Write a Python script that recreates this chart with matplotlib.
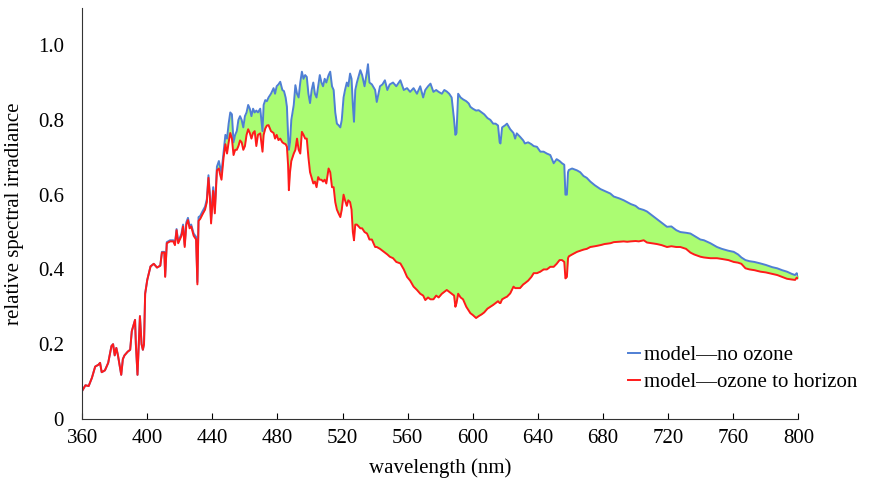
import numpy as np
import matplotlib
matplotlib.use('Agg')
import matplotlib.pyplot as plt

# wavelength grid (nm) shared by both model spectra
wl = [360, 362, 364, 366, 368, 370, 371, 372, 374, 376, 378, 379, 380, 381, 382, 384, 385, 386, 388,
      389.5, 390.5, 392.5, 393, 394, 395.5, 396.5, 397.3, 398, 398.7, 400, 402, 404, 406, 408, 409,
      410.5, 411, 412, 414, 416, 417, 418, 419, 420, 421, 422, 423, 424, 425, 426, 427, 428.5, 430,
      430.8, 431.5, 432.5, 434, 435.5, 436.6, 437.6, 438.5, 439.2, 440.5, 441.5, 442.8, 444, 444.7,
      445.6, 446.9, 448, 449, 450, 451, 452, 453, 454, 455, 456, 457, 458, 459, 460, 461, 462, 463,
      464, 465, 466, 467, 468, 469.4, 470.8, 471.5, 472.5, 473.5, 474.5, 476, 477.6, 478.5, 479.5,
      480.6, 481.7, 483, 484, 485, 485.8, 486.5, 487, 487.7, 488.5, 490, 491, 492, 493, 494, 495,
      496, 497, 498, 499, 500, 501, 502, 503, 504, 505, 506, 507, 508, 509, 510, 511.4, 512.4, 513.5,
      514.5, 515.5, 516.5, 517.5, 518.6, 519.5, 520.6, 521.5, 522.6, 523.5, 524.6, 525.5, 526.3, 527,
      527.8, 528.8, 530.9, 532, 533.5, 535, 535.6, 536.5, 538, 540, 541, 543, 544.5, 546, 547.5, 549,
      551, 553, 555.5, 557.6, 559.6, 561.5, 563.6, 565.7, 567.7, 569.5, 570.8, 572.5, 574, 575.8,
      577.5, 579, 581, 582.5, 584, 585.5, 587, 588.5, 589.3, 590, 591, 592.5, 594, 596, 597.5, 598.5,
      600, 602, 603.6, 605.5, 607, 609, 610.8, 612.5, 614, 615.5, 616.5, 617, 618, 620, 621, 623,
      625, 626, 627, 629, 631, 632, 634, 636, 637.4, 639.4, 641.5, 643.5, 645.5, 647.6, 649.7, 651.5,
      653.3, 654.8, 656.2, 656.9, 657.8, 658.5, 659, 661, 664, 666, 668, 670, 672.2, 675, 678.4, 681,
      684.5, 686.6, 690, 692.7, 694.8, 697, 700, 702, 705, 707, 710, 713, 716, 719.3, 722, 725, 727.5,
      731, 733.7, 736, 739.8, 742, 746, 750, 753, 757, 760.3, 763, 765, 767.5, 770, 773, 776.7, 780,
      784, 787, 790, 793, 796, 798, 799, 800]

# model with ozone to horizon
ozone = [0.075, 0.09, 0.088, 0.11, 0.14, 0.145, 0.15, 0.125, 0.13, 0.15, 0.195, 0.2, 0.17, 0.19, 0.17,
         0.118, 0.16, 0.17, 0.18, 0.185, 0.235, 0.265, 0.2, 0.118, 0.275, 0.2, 0.185, 0.2, 0.335, 0.372,
         0.408, 0.415, 0.405, 0.41, 0.445, 0.445, 0.38, 0.47, 0.475, 0.475, 0.465, 0.505, 0.47, 0.48,
         0.49, 0.515, 0.46, 0.52, 0.532, 0.51, 0.515, 0.49, 0.48, 0.36, 0.53, 0.535, 0.548, 0.56, 0.58,
         0.645, 0.59, 0.523, 0.61, 0.55, 0.665, 0.67, 0.655, 0.64, 0.70, 0.735, 0.71, 0.74, 0.765, 0.75,
         0.706, 0.72, 0.72, 0.73, 0.745, 0.74, 0.72, 0.73, 0.76, 0.775, 0.765, 0.75, 0.765, 0.77, 0.73,
         0.76, 0.764, 0.715, 0.76, 0.777, 0.785, 0.786, 0.77, 0.765, 0.75, 0.76, 0.746, 0.75, 0.74,
         0.737, 0.735, 0.728, 0.68, 0.612, 0.66, 0.69, 0.71, 0.72, 0.75, 0.72, 0.71, 0.768, 0.76, 0.75,
         0.75, 0.70, 0.66, 0.645, 0.63, 0.635, 0.62, 0.647, 0.64, 0.64, 0.635, 0.64, 0.63, 0.67, 0.66,
         0.62, 0.62, 0.58, 0.56, 0.55, 0.54, 0.56, 0.60, 0.585, 0.57, 0.585, 0.58, 0.56, 0.50, 0.478,
         0.52, 0.52, 0.51, 0.51, 0.50, 0.496, 0.49, 0.48, 0.48, 0.46, 0.46, 0.455, 0.45, 0.445, 0.44,
         0.434, 0.43, 0.42, 0.416, 0.40, 0.38, 0.37, 0.354, 0.345, 0.335, 0.33, 0.318, 0.325, 0.32,
         0.32, 0.33, 0.325, 0.335, 0.34, 0.345, 0.34, 0.335, 0.33, 0.30, 0.31, 0.335, 0.325, 0.32, 0.30,
         0.29, 0.283, 0.278, 0.27, 0.275, 0.28, 0.285, 0.295, 0.30, 0.305, 0.31, 0.315, 0.31, 0.31, 0.32,
         0.325, 0.327, 0.336, 0.354, 0.35, 0.35, 0.35, 0.36, 0.363, 0.37, 0.38, 0.39, 0.39, 0.394, 0.40,
         0.40, 0.407, 0.407, 0.415, 0.425, 0.425, 0.42, 0.376, 0.38, 0.43, 0.435, 0.44, 0.447, 0.45,
         0.453, 0.455, 0.46, 0.462, 0.465, 0.468, 0.47, 0.473, 0.474, 0.475, 0.474, 0.475, 0.476, 0.475,
         0.478, 0.472, 0.47, 0.468, 0.465, 0.46, 0.462, 0.46, 0.46, 0.455, 0.445, 0.44, 0.434, 0.432,
         0.43, 0.43, 0.428, 0.425, 0.42, 0.418, 0.415, 0.403, 0.40, 0.398, 0.394, 0.392, 0.388, 0.385,
         0.38, 0.375, 0.373, 0.372, 0.378, 0.375]

# model with no ozone
no_ozone = [0.075, 0.09, 0.088, 0.11, 0.14, 0.145, 0.15, 0.125, 0.13, 0.15, 0.195, 0.2, 0.17, 0.19, 0.17,
            0.118, 0.16, 0.17, 0.18, 0.185, 0.235, 0.265, 0.2, 0.118, 0.275, 0.2, 0.185, 0.2, 0.335, 0.372,
            0.408, 0.415, 0.405, 0.41, 0.447, 0.447, 0.382, 0.473, 0.478, 0.478, 0.468, 0.508, 0.474, 0.485,
            0.495, 0.52, 0.465, 0.526, 0.538, 0.516, 0.52, 0.496, 0.487, 0.366, 0.54, 0.543, 0.556, 0.568,
            0.588, 0.652, 0.598, 0.532, 0.62, 0.56, 0.675, 0.69, 0.675, 0.66, 0.715, 0.76, 0.75, 0.79,
            0.82, 0.815, 0.74, 0.76, 0.77, 0.80, 0.81, 0.80, 0.78, 0.81, 0.82, 0.84, 0.83, 0.81, 0.83, 0.82,
            0.825, 0.82, 0.83, 0.77, 0.84, 0.853, 0.85, 0.86, 0.87, 0.885, 0.87, 0.89, 0.895, 0.902, 0.88,
            0.877, 0.86, 0.835, 0.76, 0.72, 0.74, 0.80, 0.84, 0.893, 0.87, 0.86, 0.90, 0.929, 0.91, 0.92,
            0.915, 0.87, 0.845, 0.88, 0.90, 0.87, 0.86, 0.89, 0.92, 0.90, 0.89, 0.91, 0.90, 0.92, 0.929,
            0.89, 0.88, 0.82, 0.79, 0.786, 0.78, 0.80, 0.86, 0.88, 0.90, 0.89, 0.924, 0.91, 0.84, 0.795,
            0.88, 0.90, 0.933, 0.92, 0.89, 0.93, 0.949, 0.90, 0.895, 0.88, 0.848, 0.89, 0.895, 0.906, 0.88,
            0.895, 0.90, 0.89, 0.906, 0.88, 0.885, 0.875, 0.885, 0.87, 0.89, 0.86, 0.88, 0.89, 0.897,
            0.875, 0.88, 0.875, 0.87, 0.88, 0.876, 0.87, 0.86, 0.80, 0.76, 0.765, 0.87, 0.86, 0.855, 0.85,
            0.844, 0.835, 0.83, 0.825, 0.826, 0.82, 0.815, 0.805, 0.80, 0.79, 0.79, 0.785, 0.74, 0.737,
            0.78, 0.786, 0.79, 0.775, 0.765, 0.75, 0.764, 0.755, 0.745, 0.737, 0.74, 0.735, 0.73, 0.728,
            0.715, 0.715, 0.71, 0.706, 0.684, 0.695, 0.69, 0.684, 0.68, 0.60, 0.60, 0.66, 0.666, 0.67,
            0.665, 0.66, 0.65, 0.645, 0.635, 0.625, 0.615, 0.61, 0.603, 0.595, 0.59, 0.585, 0.58, 0.575,
            0.57, 0.563, 0.559, 0.555, 0.545, 0.535, 0.525, 0.514, 0.515, 0.505, 0.50, 0.498, 0.496, 0.49,
            0.48, 0.478, 0.47, 0.46, 0.455, 0.45, 0.447, 0.44, 0.432, 0.425, 0.422, 0.42, 0.416, 0.412,
            0.406, 0.403, 0.398, 0.394, 0.388, 0.385, 0.39, 0.382]

xticks = [360, 400, 440, 480, 520, 560, 600, 640, 680, 720, 760, 800]
yticks = [0, 0.2, 0.4, 0.6, 0.8, 1.0]
ytick_labels = ['0', '0.2', '0.4', '0.6', '0.8', '1.0']

plt.rcParams['font.family'] = ['Liberation Serif', 'DejaVu Serif']

fig = plt.figure(figsize=(8.93, 4.86), dpi=100)
ax = fig.add_axes([0.092, 0.138, 0.802, 0.846])

x = np.array(wl)
blue = np.array(no_ozone)
red = np.array(ozone)

ax.fill_between(x, red, blue, color='#abfc72', lw=0)
ax.plot(x, blue, color='#4f7fd4', lw=1.4, label='model\u2014no ozone')
ax.plot(x, red, color='#ff1a1a', lw=1.4, label='model\u2014ozone to horizon')

ax.set_xlim(360, 800)
ax.set_ylim(0, 1.1)
ax.set_xticks(xticks)
ax.set_yticks(yticks)
ax.set_yticklabels(ytick_labels)
ax.tick_params(axis='x', direction='in', length=4, pad=7, labelsize=15)
ax.tick_params(axis='y', length=0, pad=13, labelsize=15)

for s in ['top', 'right']:
    ax.spines[s].set_visible(False)
for s in ['left', 'bottom']:
    ax.spines[s].set_color('#333333')

ax.set_xlabel('wavelength (nm)', fontsize=15, labelpad=8)
ax.set_ylabel('relative spectral irradiance', fontsize=15)
ax.yaxis.set_label_coords(-0.081, 0.5)

ax.legend(loc='lower left', bbox_to_anchor=(0.75, 0.045), frameon=False, fontsize=15,
          handlelength=0.6, handletextpad=0.2, labelspacing=0.35, borderaxespad=0)

fig.savefig('out.png', dpi=100)
